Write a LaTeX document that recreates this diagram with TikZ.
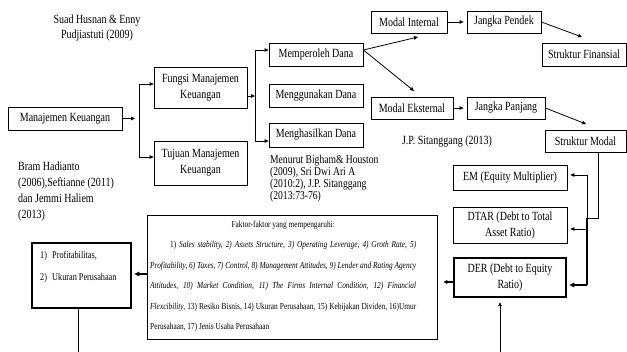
\documentclass[tikz,border=0pt]{standalone}
\usepackage{fontspec}
\setmainfont[FakeStretch=0.8]{Liberation Serif}
\usetikzlibrary{arrows.meta}
\tikzset{
 box/.style={draw, line width=0.8pt, align=center, inner sep=1pt, font=\fontsize{12.5}{16}\selectfont},
 thickbox/.style={box, line width=2.5pt},
 arr/.style={-{Triangle[length=4pt,width=3.6pt]}, line width=0.8pt},
 thickarr/.style={-{Triangle[length=5pt,width=4.5pt]}, line width=1.8pt},
 ln/.style={line width=0.8pt},
 txt/.style={font=\fontsize{12.5}{15}\selectfont, align=center, inner sep=0pt},
 ftxt/.style={font=\fontsize{9.2}{8}\selectfont, inner sep=0pt, anchor=base west},
}
\begin{document}
\begin{tikzpicture}[x=1pt,y=-1pt]
\useasboundingbox (0,0) rectangle (627,352);
% boxes
\node[box, minimum width=114pt, minimum height=23pt] (mk) at (65,118.5) {Manajemen Keuangan};
\node[box, minimum width=93pt, minimum height=41pt] (fungsi) at (200.5,87.5) {Fungsi Manajemen\\Keuangan};
\node[box, minimum width=93pt, minimum height=44pt] (tujuan) at (200.5,163) {Tujuan Manajemen\\Keuangan};
\node[box, minimum width=94pt, minimum height=23pt] (memp) at (316,54.5) {Memperoleh Dana};
\node[box, minimum width=94pt, minimum height=23pt] (meng) at (316,95.5) {Menggunakan Dana};
\node[box, minimum width=94pt, minimum height=24pt] (mengh) at (316,135) {Menghasilkan Dana};
\node[box, minimum width=76pt, minimum height=22pt] (modint) at (409,22) {Modal Internal};
\node[box, minimum width=74pt, minimum height=22pt] (jpendek) at (504,22) {Jangka Pendek};
\node[box, minimum width=84pt, minimum height=23pt] (sfin) at (584,54.5) {Struktur Finansial};
\node[box, minimum width=82pt, minimum height=22pt] (modeks) at (412,108) {Modal Eksternal};
\node[box, minimum width=78pt, minimum height=22pt] (jpanjang) at (506,108) {Jangka Panjang};
\node[box, minimum width=81pt, minimum height=22pt] (smodal) at (585.5,141) {Struktur Modal};
\node[box, minimum width=114pt, minimum height=25pt] (em) at (510,177.5) {EM (Equity Multiplier)};
\node[box, minimum width=114pt, minimum height=36pt] (dtar) at (510,225) {DTAR (Debt to Total\\Asset Ratio)};
\node[thickbox, minimum width=112pt, minimum height=39pt] (der) at (510,277.5) {DER (Debt to Equity\\Ratio)};
\node[box, minimum width=290pt, minimum height=124pt] (factor) at (292,277) {};
\node[thickbox, minimum width=99pt, minimum height=65pt] (profit) at (81.5,275.5) {};
% free texts
\node[txt] (suad) at (97,27.5) {Suad Husnan \& Enny\\Pudjiastuti (2009)};
\node[txt] (jps) at (447,142) {J.P. Sitanggang (2013)};
\node[txt, align=left, anchor=north west, font=\fontsize{12.5}{16}\selectfont] (bram) at (18,162) {Bram Hadianto\\(2006),Seftianne (2011)\\dan Jemmi Haliem\\(2013)};
\node[txt, align=left, anchor=north west, font=\fontsize{12}{9}\selectfont] (menurut) at (270,155) {Menurut Bigham\& Houston\\(2009), Sri Dwi Ari A\\(2010:2), J.P. Sitanggang\\(2013:73-76)};
% profit text
\node[ftxt, font=\fontsize{10.3}{10}\selectfont] (pr1) at (40,258.5) {\makebox[12pt][l]{1)}Profitabilitas,};
\node[ftxt, font=\fontsize{10.3}{10}\selectfont] (pr2) at (40,280.5) {\makebox[12pt][l]{2)}Ukuran Perusahaan};
% factor text
\node[ftxt] (ft0) at (150,227.5) {\makebox[266pt]{Faktor-faktor yang mempengaruhi:}};
\node[ftxt] (ft1) at (150,248) {\makebox[266pt][s]{\hspace*{20pt}1) \textit{Sales stability, 2) Assets Structure, 3) Operating Leverage, 4) Groth Rate, 5)}}};
\node[ftxt] (ft2) at (150,268.5) {\makebox[266pt][s]{\textit{Profitability, 6) Taxes, 7) Control, 8) Management Attitudes, 9) Lender and Rating Agency}}};
\node[ftxt] (ft3) at (150,289) {\makebox[266pt][s]{\textit{Attitudes, 10) Market Condition, 11) The Firms Internal Condition, 12) Financial}}};
\node[ftxt] (ft4) at (150,309.5) {\makebox[266pt][s]{\textit{Flexcibility,} 13) Resiko Bisnis, 14) Ukuran Perusahaan, 15) Kebijakan Dividen, 16)Umur}};
\node[ftxt] (ft5) at (150,330) {Perusahaan, 17) Jenis Usaha Perusahaan};
% connectors
\coordinate (mkend) at (135,118.5);
\draw[arr] (mk.east) -- (mkend);
\coordinate (b1t) at (139,84);
\coordinate (b1b) at (139,157);
\draw[ln] (b1t) -- (b1b);
\draw[arr] (b1t) -- (b1t -| fungsi.west);
\draw[arr] (b1b) -- (b1b -| tujuan.west);
\coordinate (b2t) at (255,50);
\coordinate (b2b) at (255,141);
\coordinate (b2m) at (255,96);
\draw[arr] ([yshift=-8.5pt]fungsi.east) -- (b2m);
\draw[ln] (b2t) -- (b2b);
\draw[arr] (b2t) -- (b2t -| memp.west);
\draw[arr] (b2b) -- (b2b -| mengh.west);
\coordinate (mpe) at ([yshift=4.5pt]memp.east);
\coordinate (mi) at (418,37);
\coordinate (me) at (414,91);
\draw[arr] (mpe) -- (mi);
\draw[arr] (mpe) -- (me);
\draw[arr, shorten >=3pt] (modint.east) -- (jpendek.west);
\coordinate (sf) at (582,37);
\draw[arr] (jpendek.east) -- (sf);
\draw[arr, shorten >=3pt] (modeks.east) -- (jpanjang.west);
\coordinate (sm) at (586,124);
\draw[arr] (jpanjang.east) -- (sm);
\coordinate (sm1) at (598,218);
\coordinate (vj) at (587,218);
\draw[ln] (smodal.south -| sm1) -- (sm1) -- (vj);
\coordinate (vt) at (587,175);
\coordinate (vd) at (587,229);
\coordinate (vb) at (587,285);
\draw[ln] (vt) -- (vj);
\draw[line width=1.8pt] (vj) -- (vb);
\draw[arr, shorten >=3pt] (vt) -- (vt -| em.east);
\draw[arr, shorten >=3pt] (vd) -- (vd -| dtar.east);
\draw[thickarr, shorten >=2pt] (vb) -- (vb -| der.east);
\coordinate (dl) at ([yshift=-4.5pt]der.west);
\draw[arr, line width=1.2pt, shorten >=6pt] (dl) -- (dl -| factor.east);
\coordinate (fl) at ([yshift=3pt]factor.west);
\draw[thickarr, shorten >=2pt] (fl) -- (fl -| profit.east);
\coordinate (bot) at (500,352);
\draw[arr, shorten >=4pt] (bot) -- (bot |- der.south);
\coordinate (pb) at (78,352);
\draw[ln] (pb |- profit.south) -- (pb);
\end{tikzpicture}
\end{document}
